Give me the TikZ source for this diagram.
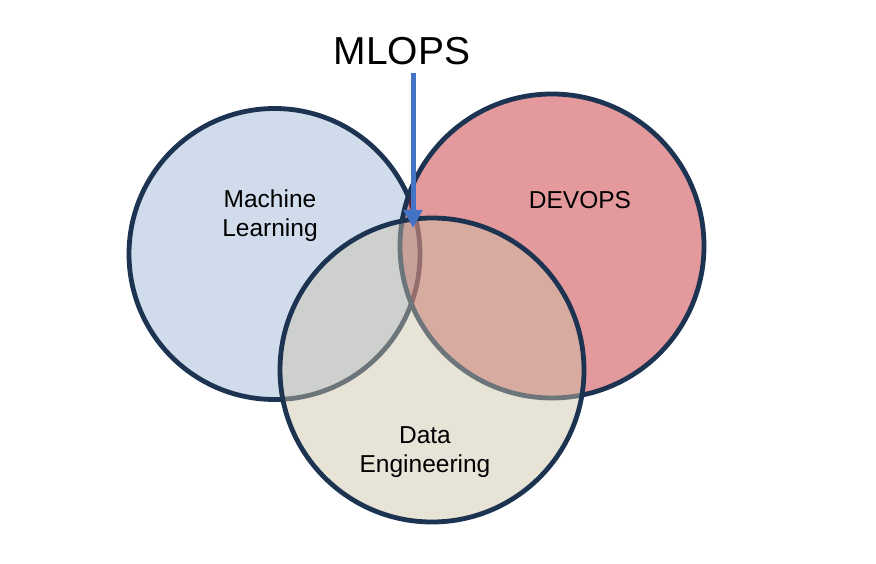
\documentclass[tikz,border=0pt]{standalone}
\usepackage{fontspec}
\setmainfont{Liberation Sans}
\usetikzlibrary{arrows.meta}
\definecolor{navy}{RGB}{28,52,82}
\definecolor{mlblue}{RGB}{208,220,235}
\definecolor{devred}{RGB}{194,25,30}
\definecolor{debeige}{RGB}{203,194,168}
\definecolor{arrowblue}{RGB}{68,114,196}
\tikzset{
  venn/.style={draw=navy, line width=4.8pt},
  lbl/.style={align=center, font=\fontsize{24.5}{29}\selectfont, inner sep=0pt},
}
\begin{document}
\begin{tikzpicture}[x=1pt,y=-1pt]
\useasboundingbox (0,0) rectangle (876,564);
\fill[white] (0,0) rectangle (876,564);
% circles
\path[venn, fill=mlblue] (274.5,254) circle[radius=145.5];
\path[venn, fill=devred, fill opacity=0.44] (552,246) circle[radius=152];
\path[venn, fill=debeige, fill opacity=0.46] (432,370) circle[radius=152];
% labels
\node[lbl] (ml) at (270,216) {Machine\\Learning};
\node[lbl] (dev) at (580,200) {DEVOPS};
\node[lbl] (de) at (425,452) {Data\\Engineering};
\node[inner sep=0pt, font=\fontsize{39}{47}\selectfont] (mlops) at (402,51) {MLOPS};
% arrow
\coordinate (astart) at (413,73);
\coordinate (atip) at (413,228);
\draw[arrowblue, line width=5pt, -{Triangle[width=18pt,length=18pt]}] (astart) -- (atip);
\end{tikzpicture}
\end{document}
